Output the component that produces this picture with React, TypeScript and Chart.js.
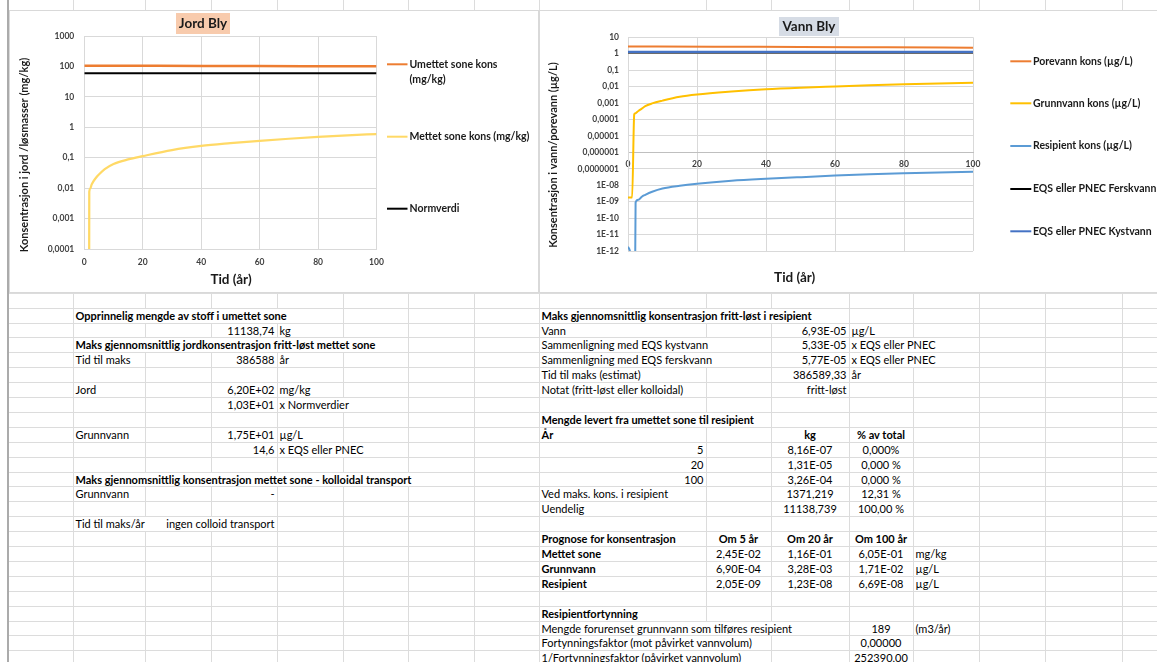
import React, { useEffect, useRef } from "react";
import { Chart, registerables } from "chart.js";

Chart.register(...registerables);

const FONT = "Lato, 'Noto Sans', 'DejaVu Sans', sans-serif";

// ---------------- Jord Bly (soil chart) ----------------
const jordTitle = "Jord Bly";
const jordYTitle = "Konsentrasjon i jord /løsmasser (mg/kg)";
const tidTitle = "Tid (år)";
const jordSeriesNames = ["Umettet sone kons (mg/kg)", "Mettet sone kons (mg/kg)", "Normverdi"];
const umettetYears = [0, 25, 50, 75, 100];
const umettetKons = [106, 105, 103.5, 102, 101];
const mettetYears = [1.6, 1.7, 2, 2.5, 3, 4, 5, 7, 10, 15, 20, 30, 40, 50, 60, 70, 80, 90, 100];
const mettetKons = [1e-9, 0.0075, 0.0095, 0.013, 0.016, 0.022, 0.028, 0.042, 0.062, 0.088, 0.113, 0.178, 0.243, 0.3, 0.36, 0.42, 0.48, 0.54, 0.6];
const normYears = [0, 100];
const normverdi = [60, 60];
const jordTicks = [0.0001, 0.001, 0.01, 0.1, 1, 10, 100, 1000];
const jordTickLabels = ["0,0001", "0,001", "0,01", "0,1", "1", "10", "100", "1000"];
const yearTicks = [0, 20, 40, 60, 80, 100];

// ---------------- Vann Bly (water chart) ----------------
const vannTitle = "Vann Bly";
const vannYTitle = "Konsentrasjon i vann/porevann (µg/L)";
const vannSeriesNames = [
  "Porevann kons (µg/L)",
  "Grunnvann kons (µg/L)",
  "Resipient kons (µg/L)",
  "EQS eller PNEC Ferskvann",
  "EQS eller PNEC Kystvann",
];
const porevannYears = [0, 25, 50, 75, 100];
const porevannKons = [2.8, 2.7, 2.55, 2.45, 2.35];
const grunnvannYears = [0, 1.2, 1.8, 2, 3, 4, 5, 7, 10, 15, 20, 30, 40, 50, 60, 70, 80, 90, 100];
const grunnvannKons = [1.8e-9, 1.8e-9, 2.0e-4, 2.3e-4, 3.3e-4, 4.6e-4, 6.5e-4, 9.5e-4, 1.4e-3, 2.4e-3, 3.3e-3, 5.0e-3, 6.9e-3, 8.6e-3, 1.02e-2, 1.2e-2, 1.37e-2, 1.54e-2, 1.71e-2];
const resipientYears = [0, 0.5, 1, 2, 2.2, 3, 4, 5, 7, 10, 15, 20, 30, 40, 50, 60, 70, 80, 90, 100];
const resipientKons = [1.8e-12, 1.1e-12, 3e-13, 1e-15, 9e-10, 1.3e-9, 2.0e-9, 2.6e-9, 4.0e-9, 6.3e-9, 9.3e-9, 1.23e-8, 1.85e-8, 2.45e-8, 3.1e-8, 3.85e-8, 4.6e-8, 5.3e-8, 6.0e-8, 6.69e-8];
const eqsYears = [0, 100];
const eqsFerskvann = [1.2, 1.2];
const eqsKystvann = [1.3, 1.3];
const vannTicks = [1e-12, 1e-11, 1e-10, 1e-9, 1e-8, 1e-7, 1e-6, 1e-5, 1e-4, 1e-3, 1e-2, 1e-1, 1, 10];
const vannTickLabels = ["1E-12", "1E-11", "1E-10", "1E-09", "1E-08", "0,0000001", "0,000001", "0,00001", "0,0001", "0,001", "0,01", "0,1", "1", "10"];

// ---------------- Spreadsheet cells ----------------
type Cell = [number, number, string, "l" | "r" | "c", boolean?];
const soilCells: Cell[] = [
  [20, 1, "Opprinnelig mengde av stoff i umettet sone", "l", true],
  [21, 3, "11138,74", "r"], [21, 4, "kg", "l"],
  [22, 1, "Maks gjennomsnittlig jordkonsentrasjon fritt-løst mettet sone", "l", true],
  [23, 1, "Tid til maks", "l"], [23, 3, "386588", "r"], [23, 4, "år", "l"],
  [25, 1, "Jord", "l"], [25, 3, "6,20E+02", "r"], [25, 4, "mg/kg", "l"],
  [26, 3, "1,03E+01", "r"], [26, 4, "x Normverdier", "l"],
  [28, 1, "Grunnvann", "l"], [28, 3, "1,75E+01", "r"], [28, 4, "µg/L", "l"],
  [29, 3, "14,6", "r"], [29, 4, "x EQS eller PNEC", "l"],
  [31, 1, "Maks gjennomsnittlig konsentrasjon mettet sone - kolloidal transport", "l", true],
  [32, 1, "Grunnvann", "l"], [32, 3, "-", "r"],
  [34, 1, "Tid til maks/år", "l"], [34, 3, "ingen colloid transport", "r"],
];
const waterCells: Cell[] = [
  [20, 8, "Maks gjennomsnittlig konsentrasjon fritt-løst i resipient", "l", true],
  [21, 8, "Vann", "l"], [21, 10, "6,93E-05", "r"], [21, 11, "µg/L", "l"],
  [22, 8, "Sammenligning med EQS kystvann", "l"], [22, 10, "5,33E-05", "r"], [22, 11, "x EQS eller PNEC", "l"],
  [23, 8, "Sammenligning med EQS ferskvann", "l"], [23, 10, "5,77E-05", "r"], [23, 11, "x EQS eller PNEC", "l"],
  [24, 8, "Tid til maks (estimat)", "l"], [24, 10, "386589,33", "r"], [24, 11, "år", "l"],
  [25, 8, "Notat (fritt-løst eller kolloidal)", "l"], [25, 10, "fritt-løst", "r"],
  [27, 8, "Mengde levert fra umettet sone til resipient", "l", true],
  [28, 8, "År", "l", true], [28, 10, "kg", "c", true], [28, 11, "% av total", "c", true],
  [29, 8, "5", "r"], [29, 10, "8,16E-07", "c"], [29, 11, "0,000%", "c"],
  [30, 8, "20", "r"], [30, 10, "1,31E-05", "c"], [30, 11, "0,000 %", "c"],
  [31, 8, "100", "r"], [31, 10, "3,26E-04", "c"], [31, 11, "0,000 %", "c"],
  [32, 8, "Ved maks. kons. i resipient", "l"], [32, 10, "1371,219", "c"], [32, 11, "12,31 %", "c"],
  [33, 8, "Uendelig", "l"], [33, 10, "11138,739", "c"], [33, 11, "100,00 %", "c"],
  [35, 8, "Prognose for konsentrasjon", "l", true], [35, 9, "Om 5 år", "c", true], [35, 10, "Om 20 år", "c", true], [35, 11, "Om 100 år", "c", true],
  [36, 8, "Mettet sone", "l", true], [36, 9, "2,45E-02", "c"], [36, 10, "1,16E-01", "c"], [36, 11, "6,05E-01", "c"], [36, 12, "mg/kg", "l"],
  [37, 8, "Grunnvann", "l", true], [37, 9, "6,90E-04", "c"], [37, 10, "3,28E-03", "c"], [37, 11, "1,71E-02", "c"], [37, 12, "µg/L", "l"],
  [38, 8, "Resipient", "l", true], [38, 9, "2,05E-09", "c"], [38, 10, "1,23E-08", "c"], [38, 11, "6,69E-08", "c"], [38, 12, "µg/L", "l"],
  [40, 8, "Resipientfortynning", "l", true],
  [41, 8, "Mengde forurenset grunnvann som tilføres resipient", "l"], [41, 11, "189", "c"], [41, 12, "(m3/år)", "l"],
  [42, 8, "Fortynningsfaktor (mot påvirket vannvolum)", "l"], [42, 11, "0,00000", "c"],
  [43, 8, "1/Fortynningsfaktor (påvirket vannvolum)", "l"], [43, 11, "252390,00", "c"],
];

// ---------------- layout constants ----------------
const PAGE_W = 1157;
const PAGE_H = 662;
const COLS = [8, 73, 145, 211, 277, 343, 408, 474, 539, 706, 771, 849, 913, 979, 1045, 1122, 1200];
const ROW0 = 9.6;
const ROWH = 14.9;
const rowTop = (r: number) => Math.round(ROW0 + r * ROWH);
const SHEET_LINE = "#DCDCDC";
const GRID = "#D9D9D9";
const TICK_COLOR = "#404040";
const TEXT_COLOR = "#1a1a1a";

const pts = (xs: number[], ys: number[]) => xs.map((x, i) => ({ x, y: ys[i] }));

function wrapText(ctx: CanvasRenderingContext2D, text: string, maxW: number): string[] {
  const words = text.split(" ");
  const lines: string[] = [];
  let cur = "";
  for (const w of words) {
    const test = cur ? cur + " " + w : w;
    if (cur && ctx.measureText(test).width > maxW) {
      lines.push(cur);
      cur = w;
    } else cur = test;
  }
  if (cur) lines.push(cur);
  return lines;
}

const decorPlugin = {
  id: "decor",
  afterDraw(chart: any, _a: any, o: any) {
    const ctx: CanvasRenderingContext2D = chart.ctx;
    ctx.save();
    const t = o.title;
    ctx.fillStyle = t.bg;
    ctx.fillRect(t.x, t.y, t.w, t.h);
    ctx.fillStyle = TEXT_COLOR;
    ctx.font = `bold ${t.size}px ${FONT}`;
    ctx.textAlign = "center";
    ctx.textBaseline = "middle";
    ctx.fillText(t.text, t.x + t.w / 2, t.y + t.h / 2 + 0.5);

    ctx.font = `bold ${o.xTitle.size}px ${FONT}`;
    ctx.fillText(o.xTitle.text, o.xTitle.x, o.xTitle.y);

    ctx.save();
    ctx.translate(o.yTitle.x, o.yTitle.y);
    ctx.rotate(-Math.PI / 2);
    ctx.font = `bold ${o.yTitle.size}px ${FONT}`;
    ctx.fillText(o.yTitle.text, 0, 0);
    ctx.restore();

    const L = o.legend;
    ctx.font = `bold ${L.size}px ${FONT}`;
    ctx.textAlign = "left";
    chart.data.datasets.forEach((ds: any, i: number) => {
      const y = L.ys[i];
      ctx.strokeStyle = ds.borderColor;
      ctx.lineWidth = 2;
      ctx.beginPath();
      ctx.moveTo(L.x0, y);
      ctx.lineTo(L.x1, y);
      ctx.stroke();
      ctx.fillStyle = TEXT_COLOR;
      const lines = wrapText(ctx, ds.label, L.maxW);
      lines.forEach((ln, j) => ctx.fillText(ln, L.tx, y + j * L.lineH));
    });
    ctx.restore();
  },
};

const tickFont = { family: FONT, size: 8.5, weight: "bold" as const };

function lineDs(label: string, data: any[], color: string, width: number, extra: any = {}) {
  return {
    label,
    data,
    borderColor: color,
    backgroundColor: color,
    borderWidth: width,
    pointRadius: 0,
    cubicInterpolationMode: "monotone" as const,
    fill: false,
    ...extra,
  };
}

function jordConfig(): any {
  return {
    type: "line",
    data: {
      datasets: [
        lineDs(jordSeriesNames[0], pts(umettetYears, umettetKons), "#ED7D31", 2.5),
        lineDs(jordSeriesNames[1], pts(mettetYears, mettetKons), "#FFD966", 2.25),
        lineDs(jordSeriesNames[2], pts(normYears, normverdi), "#000000", 2),
      ],
    },
    options: {
      responsive: false,
      animation: false,
      events: [],
      layout: { padding: { left: 0, top: 25, right: 161.5, bottom: 0 } },
      plugins: {
        legend: { display: false },
        title: { display: false },
        tooltip: { enabled: false },
        decor: {
          title: { text: jordTitle, x: 166, y: 2, w: 54, h: 21, bg: "#F8CBAD", size: 13.5 },
          xTitle: { text: tidTitle, x: 221, y: 269, size: 13.5 },
          yTitle: { text: jordYTitle, x: 14, y: 144, size: 11 },
          legend: { x0: 377, x1: 397.5, tx: 399.5, ys: [53.3, 125.7, 197.7], size: 10.5, lineH: 15, maxW: 124 },
        },
      },
      scales: {
        x: {
          type: "linear",
          min: 0,
          max: 100,
          afterBuildTicks: (s: any) => { s.ticks = yearTicks.map((v) => ({ value: v })); },
          afterFit: (s: any) => { s.height = 43; },
          ticks: { font: tickFont, color: TICK_COLOR, padding: 8, maxRotation: 0, autoSkip: false },
          grid: { color: GRID, drawTicks: false },
          border: { color: GRID },
        },
        y: {
          type: "logarithmic",
          min: 0.0001,
          max: 1000,
          afterBuildTicks: (s: any) => { s.ticks = jordTicks.map((v) => ({ value: v })); },
          afterFit: (s: any) => { s.width = 74.3; },
          ticks: { font: tickFont, color: TICK_COLOR, padding: 10, autoSkip: false, callback: (_v: any, i: number) => jordTickLabels[i] },
          grid: { color: GRID, drawTicks: false },
          border: { color: GRID },
        },
      },
    },
    plugins: [decorPlugin],
  };
}

function vannConfig(): any {
  return {
    type: "line",
    data: {
      datasets: [
        lineDs(vannSeriesNames[0], pts(porevannYears, porevannKons), "#ED7D31", 2),
        lineDs(vannSeriesNames[1], pts(grunnvannYears, grunnvannKons), "#FFC000", 2),
        lineDs(vannSeriesNames[2], pts(resipientYears, resipientKons), "#5B9BD5", 2),
        lineDs(vannSeriesNames[3], pts(eqsYears, eqsFerskvann), "#000000", 2, { order: 2 }),
        lineDs(vannSeriesNames[4], pts(eqsYears, eqsKystvann), "#4472C4", 2.25, { order: 1 }),
      ],
    },
    options: {
      responsive: false,
      animation: false,
      events: [],
      layout: { padding: { left: 0, top: 26.3, right: 184, bottom: 41 } },
      plugins: {
        legend: { display: false },
        title: { display: false },
        tooltip: { enabled: false },
        decor: {
          title: { text: vannTitle, x: 239, y: 6, w: 60, h: 19, bg: "#D6DCE5", size: 13.5 },
          xTitle: { text: tidTitle, x: 254.7, y: 267, size: 13.5 },
          yTitle: { text: vannYTitle, x: 13, y: 144, size: 11 },
          legend: { x0: 470.3, x1: 491.3, tx: 493, ys: [50.3, 92.3, 135, 178, 220.3], size: 10.5, lineH: 15, maxW: 400 },
        },
      },
      scales: {
        x: {
          type: "linear",
          axis: "x",
          position: { y: 1e-6 },
          min: 0,
          max: 100,
          afterBuildTicks: (s: any) => { s.ticks = yearTicks.map((v) => ({ value: v })); },
          ticks: { font: tickFont, color: TICK_COLOR, padding: 7, maxRotation: 0, autoSkip: false },
          grid: { color: GRID, drawTicks: false },
          border: { color: "#BFBFBF" },
        },
        y: {
          type: "logarithmic",
          position: "left",
          min: 1e-12,
          max: 10,
          afterBuildTicks: (s: any) => { s.ticks = vannTicks.map((v) => ({ value: v })); },
          afterFit: (s: any) => { s.width = 88; },
          ticks: { font: tickFont, color: TICK_COLOR, padding: 9, autoSkip: false, callback: (_v: any, i: number) => vannTickLabels[i] },
          grid: { color: GRID, drawTicks: false },
          border: { color: GRID },
        },
      },
    },
    plugins: [decorPlugin],
  };
}

function ChartBox(props: { left: number; top: number; width: number; height: number; canvasW: number; make: () => any }) {
  const ref = useRef<HTMLCanvasElement | null>(null);
  useEffect(() => {
    if (!ref.current) return;
    const chart = new Chart(ref.current, props.make());
    return () => chart.destroy();
  }, []);
  const innerH = props.height - 2;
  return (
    <div
      style={{
        position: "absolute",
        left: props.left,
        top: props.top,
        width: props.width,
        height: props.height,
        boxSizing: "border-box",
        border: "1px solid #D9D9D9",
        background: "#fff",
      }}
    >
      <canvas
        ref={ref}
        width={props.canvasW}
        height={innerH}
        style={{ position: "absolute", left: 0, top: 0, width: props.canvasW, height: innerH, display: "block" }}
      />
    </div>
  );
}

function SheetCell({ cell }: { cell: Cell }) {
  const [r, c, text, align, bold] = cell;
  const top = rowTop(r) + 1;
  const h = rowTop(r + 1) - rowTop(r) - 1;
  const base: React.CSSProperties = {
    position: "absolute",
    top,
    height: h,
    lineHeight: h + "px",
    whiteSpace: "nowrap",
    background: "#fff",
    fontWeight: bold ? 700 : 400,
    color: "#000",
  };
  if (align === "l") {
    return <div style={{ ...base, left: COLS[c] + 2.5, paddingRight: 1 }}>{text}</div>;
  }
  if (align === "r") {
    return <div style={{ ...base, right: PAGE_W - COLS[c + 1] + 2.5, paddingLeft: 1 }}>{text}</div>;
  }
  const center = (COLS[c] + COLS[c + 1]) / 2;
  return <div style={{ ...base, left: center, transform: "translateX(-50%)" }}>{text}</div>;
}

export default function App() {
  const rows: number[] = [];
  for (let r = 0; r <= 45; r++) rows.push(rowTop(r));
  return (
    <div
      style={{
        position: "fixed",
        left: 0,
        top: 0,
        width: PAGE_W,
        height: PAGE_H,
        overflow: "hidden",
        background: "#fff",
        fontFamily: FONT,
        fontSize: 11,
      }}
    >
      {rows.map((y, i) => (
        <div key={"h" + i} style={{ position: "absolute", left: 8, top: y, width: PAGE_W, height: 1, background: SHEET_LINE }} />
      ))}
      {COLS.slice(1).map((x, i) => (
        <div key={"v" + i} style={{ position: "absolute", left: x, top: 0, width: 1, height: PAGE_H, background: SHEET_LINE }} />
      ))}
      <div style={{ position: "absolute", left: 7, top: 0, width: 2, height: PAGE_H, background: "#ABABAB" }} />
      {soilCells.map((c, i) => <SheetCell key={"s" + i} cell={c} />)}
      {waterCells.map((c, i) => <SheetCell key={"w" + i} cell={c} />)}
      <ChartBox left={9} top={10} width={530} height={283} canvasW={528} make={jordConfig} />
      <ChartBox left={539} top={10} width={640} height={283} canvasW={617} make={vannConfig} />
    </div>
  );
}
